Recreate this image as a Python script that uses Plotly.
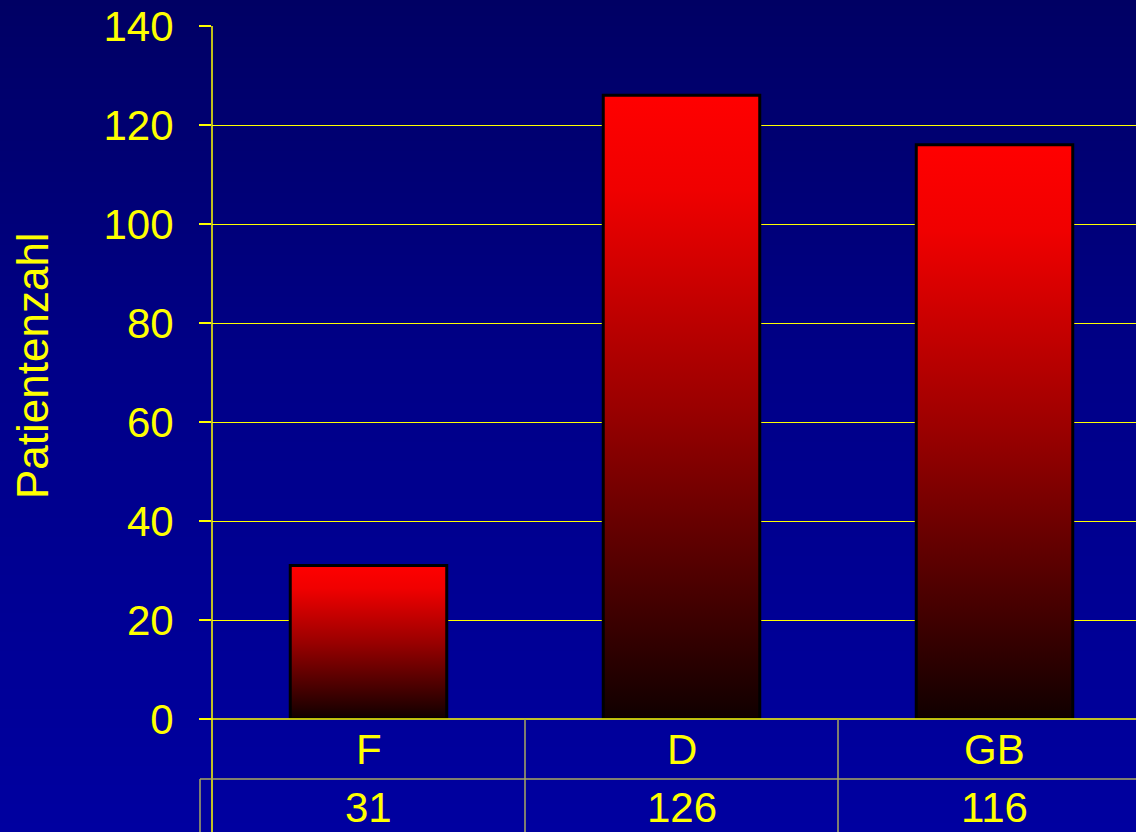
import plotly.graph_objects as go

# ---- data ----
categories = ["F", "D", "GB"]
patients = [31, 126, 116]
y_ticks = [0, 20, 40, 60, 80, 100, 120, 140]
y_title = "Patientenzahl"

W, H = 1136, 832
YELLOW = "#ffff00"
TABLE_LINE = "#a8a860"
FONT = "Liberation Sans, Arial, sans-serif"
FS = 42

# pixel layout helpers (paper fractions)
def px_x(p):
    return p / W

def px_y(p):
    return (H - p) / H

x_left_px, y_zero_px, y_top_px = 212, 719, 26
row_split_px = 779
cat_px = 313.0  # width of one category column in pixels
x_range = [-0.5, -0.5 + (W - x_left_px) / cat_px]

fig = go.Figure()

# background gradient (on its own full-paper axes, drawn first)
fig.add_trace(go.Heatmap(
    z=[[0, 0], [1, 1]], x=[0, 1], y=[0, 1],
    colorscale=[[0, "#0000a0"], [0.55, "#000088"], [1, "#000064"]],
    zsmooth="best", showscale=False, hoverinfo="skip",
    xaxis="x", yaxis="y",
))

# bars with vertical red->black gradient
bar_half = 0.25
for i, (cat, v) in enumerate(zip(categories, patients)):
    fig.add_trace(go.Scatter(
        x=[i - bar_half, i - bar_half, i + bar_half, i + bar_half, i - bar_half],
        y=[0, v, v, 0, 0],
        mode="lines", fill="toself",
        line=dict(color="black", width=3),
        fillgradient=dict(type="vertical",
                          colorscale=[[0, "#100000"], [0.5, "#9a0000"], [0.85, "#f00000"], [1, "#ff0000"]]),
        xaxis="x2", yaxis="y2", showlegend=False, hoverinfo="skip", name=cat,
    ))

shapes = []
shapes.append(dict(type="line", xref="paper", yref="paper",
                   x0=px_x(x_left_px), x1=px_x(x_left_px), y0=0, y1=px_y(y_top_px),
                   line=dict(color=YELLOW, width=1.5)))
shapes.append(dict(type="line", xref="paper", yref="paper",
                   x0=px_x(200), x1=1, y0=px_y(y_zero_px), y1=px_y(y_zero_px),
                   line=dict(color=YELLOW, width=1.5)))
shapes.append(dict(type="line", xref="paper", yref="paper",
                   x0=px_x(200), x1=1, y0=px_y(row_split_px), y1=px_y(row_split_px),
                   line=dict(color=TABLE_LINE, width=1.5)))
shapes.append(dict(type="line", xref="paper", yref="paper",
                   x0=px_x(200), x1=px_x(200), y0=0, y1=px_y(row_split_px),
                   line=dict(color=TABLE_LINE, width=1.5)))
for i in range(len(categories) - 1):
    shapes.append(dict(type="line", xref="x2", yref="paper",
                       x0=i + 0.5, x1=i + 0.5, y0=0, y1=px_y(y_zero_px),
                       line=dict(color=TABLE_LINE, width=1.5)))

annotations = []
for i, (cat, v) in enumerate(zip(categories, patients)):
    annotations.append(dict(x=i, y=px_y(749), xref="x2", yref="paper", text=cat,
                            showarrow=False, font=dict(color=YELLOW, size=FS, family=FONT),
                            xanchor="center", yanchor="middle"))
    annotations.append(dict(x=i, y=px_y(807), xref="x2", yref="paper", text=str(v),
                            showarrow=False, font=dict(color=YELLOW, size=FS, family=FONT),
                            xanchor="center", yanchor="middle"))
annotations.append(dict(x=px_x(32), y=px_y(366), xref="paper", yref="paper", text=y_title,
                        textangle=-90, showarrow=False,
                        font=dict(color=YELLOW, size=44, family=FONT),
                        xanchor="center", yanchor="middle"))

fig.update_layout(
    width=W, height=H, autosize=False,
    margin=dict(l=0, r=0, t=0, b=0, pad=0, autoexpand=False),
    paper_bgcolor="#000080",
    plot_bgcolor="rgba(0,0,0,0)",
    showlegend=False,
    xaxis=dict(domain=[0, 1], range=[0, 1], visible=False, fixedrange=True, automargin=False),
    yaxis=dict(domain=[0, 1], range=[0, 1], visible=False, fixedrange=True, automargin=False),
    xaxis2=dict(domain=[px_x(x_left_px), 1], range=x_range, anchor="y2", automargin=False,
                showgrid=False, zeroline=False, showticklabels=False, ticks=""),
    yaxis2=dict(domain=[px_y(y_zero_px), px_y(y_top_px)], range=[0, 140], anchor="x2",
                automargin=False,
                tickvals=y_ticks, ticks="outside", ticklen=12, tickcolor=YELLOW, tickwidth=1.5,
                showgrid=True, gridcolor=YELLOW, gridwidth=1.2, zeroline=False,
                showline=False, ticklabelstandoff=17,
                tickfont=dict(color=YELLOW, size=FS, family=FONT)),
    shapes=shapes,
    annotations=annotations,
)

post = (
    "var gd=document.getElementById('{plot_id}');"
    "document.documentElement.style.margin='0';document.documentElement.style.overflow='hidden';"
    "document.body.style.margin='0';document.body.style.overflow='hidden';"
    "gd.style.position='fixed';gd.style.left='0px';gd.style.top='0px';"
    "gd.style.width='1136px';gd.style.height='832px';"
    "Plotly.relayout(gd,{width:1136,height:832});"
)

fig.write_html("out.html", config={"responsive": False, "displayModeBar": False},
               post_script=post)
